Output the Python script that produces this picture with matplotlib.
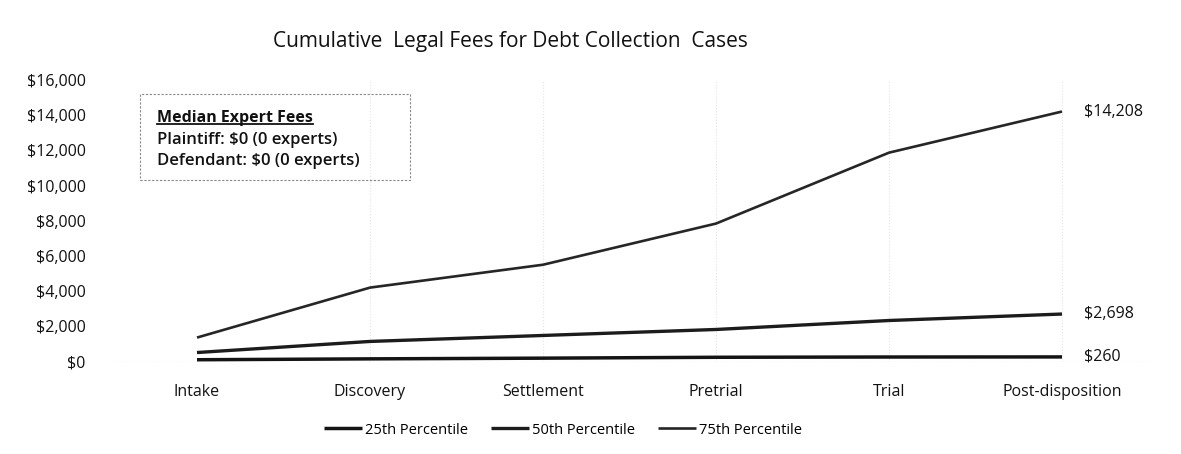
import matplotlib
matplotlib.use("Agg")
import matplotlib.pyplot as plt
from matplotlib.patches import Rectangle
from matplotlib.lines import Line2D
from matplotlib.ticker import FuncFormatter

plt.rcParams['font.family'] = ['Open Sans', 'DejaVu Sans']

categories = ["Intake", "Discovery", "Settlement", "Pretrial", "Trial", "Post-disposition"]
p25 = [100, 150, 190, 240, 255, 260]
p50 = [510, 1140, 1480, 1820, 2330, 2698]
p75 = [1360, 4200, 5500, 7840, 11870, 14208]
series_names = ["25th Percentile", "50th Percentile", "75th Percentile"]
y_ticks = [0, 2000, 4000, 6000, 8000, 10000, 12000, 14000, 16000]
title = "Cumulative  Legal Fees for Debt Collection  Cases"
box_title = "Median Expert Fees"
box_lines = ["Plaintiff: $0 (0 experts)", "Defendant: $0 (0 experts)"]

W, H = 1181, 454
fig = plt.figure(figsize=(W / 100, H / 100), dpi=100)

def fx(px):
    return px / W

def fy(py):
    return 1 - py / H

left, right, top, bottom = 110.5, 1148.5, 80, 361.5
ax = fig.add_axes([fx(left), fy(bottom), fx(right) - fx(left), fy(top) - fy(bottom)])

x = list(range(len(categories)))
colors = ["#141414", "#1c1c1c", "#262626"]
widths = [2.5, 2.4, 1.9]
for vals, name, c, lw in zip([p25, p50, p75], series_names, colors, widths):
    ax.plot(x, vals, color=c, lw=lw, label=name, solid_capstyle='butt')
    ax.text(x[-1] + 0.13, vals[-1], f"${vals[-1]:,}", ha='left', va='center',
            fontsize=11.5, color='#111111')

ax.set_xlim(-0.5, len(categories) - 0.5)
ax.set_ylim(0, 16000)
ax.set_yticks(y_ticks)
ax.yaxis.set_major_formatter(FuncFormatter(lambda v, p: f"${int(v):,}"))
ax.set_xticks(x)
ax.set_xticklabels(categories)
ax.tick_params(axis='both', length=0, colors='#111111')
ax.tick_params(axis='x', pad=16, labelsize=11.5)
ax.tick_params(axis='y', pad=18, labelsize=11.5)
for s in ax.spines.values():
    s.set_visible(False)
ax.axhline(0, color='#cccccc', lw=0.8, ls=':', zorder=0)
for xi in x[1:]:
    ax.axvline(xi, color='#e4e4e4', lw=0.8, ls=':', zorder=0)

fig.text(0.432, fy(42), title, ha='center', va='center', fontsize=15, color='#111111')

# annotation box
fig.patches.append(Rectangle((fx(140), fy(180)), fx(410) - fx(140), fy(94) - fy(180),
                             transform=fig.transFigure, fill=False, edgecolor='#888888',
                             lw=0.8, ls=(0, (2, 1.5))))
t1 = fig.text(fx(157), fy(118), box_title, ha='left', va='center', fontsize=11.5,
              fontweight='bold', color='#111111')
fig.text(fx(157), fy(140), box_lines[0], ha='left', va='center', fontsize=12,
         fontweight='semibold', color='#111111')
fig.text(fx(157), fy(161), box_lines[1], ha='left', va='center', fontsize=12,
         fontweight='semibold', color='#111111')
fig.canvas.draw()
bb = t1.get_window_extent(renderer=fig.canvas.get_renderer())
bbf = bb.transformed(fig.transFigure.inverted())
fig.lines.append(Line2D([bbf.x0, bbf.x1], [bbf.y0 + 0.004, bbf.y0 + 0.004],
                        transform=fig.transFigure, color='#111111', lw=1.3))

fig.legend(loc='center', bbox_to_anchor=(fx(563), fy(430)), ncol=3, frameon=False,
           fontsize=10.5, handlelength=2.6, columnspacing=1.6, handletextpad=0.2)

fig.savefig("out.png", dpi=100, facecolor='white')
